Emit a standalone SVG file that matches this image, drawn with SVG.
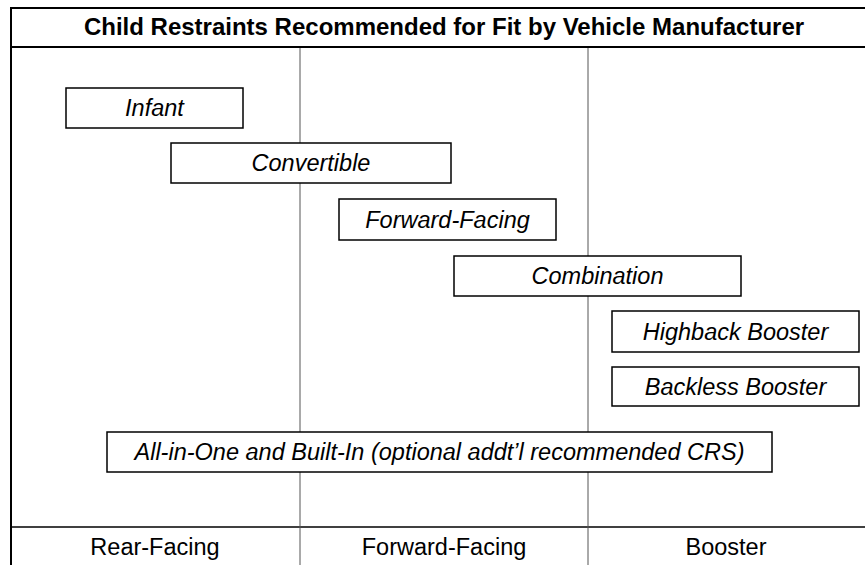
<svg xmlns="http://www.w3.org/2000/svg" width="865" height="565" viewBox="0 0 865 565">
<style>
.frame{stroke:#000;stroke-width:2;fill:none}
.div{stroke:#555;stroke-width:1;fill:none}
.box rect{fill:#fff;stroke:#000;stroke-width:1.5}
.box text{font-family:"Liberation Sans",Arial,sans-serif;font-style:italic;font-size:23.5px;text-anchor:middle;fill:#000}
.title{font-family:"Liberation Sans",Arial,sans-serif;font-weight:bold;font-size:24px;text-anchor:middle;fill:#000}
.lab{font-family:"Liberation Sans",Arial,sans-serif;font-size:23.5px;text-anchor:middle;fill:#000}
</style>
<rect width="865" height="565" fill="#fff"/>
<g id="grid">
<line class="frame" x1="11" y1="8" x2="865" y2="8"/>
<line class="frame" x1="11" y1="47" x2="865" y2="47"/>
<line class="frame" x1="11" y1="7" x2="11" y2="565"/>
<line class="frame" x1="11" y1="527" x2="865" y2="527" style="stroke-width:1.5"/>
<line class="div" x1="300" y1="48" x2="300" y2="565"/>
<line class="div" x1="588" y1="48" x2="588" y2="565"/>
<text class="title" x="444" y="35">Child Restraints Recommended for Fit by Vehicle Manufacturer</text>
<text class="lab" x="155" y="555">Rear-Facing</text>
<text class="lab" x="444" y="555">Forward-Facing</text>
<text class="lab" x="726" y="555">Booster</text>
</g>
<g id="connectors"></g>
<g id="infant" class="box"><rect x="66" y="88" width="177" height="40"/><text x="154.5" y="116">Infant</text></g>
<g id="convertible" class="box"><rect x="171" y="143" width="280" height="40"/><text x="311" y="171">Convertible</text></g>
<g id="forward-facing" class="box"><rect x="339" y="199" width="217" height="41"/><text x="447.5" y="228">Forward-Facing</text></g>
<g id="combination" class="box"><rect x="454" y="256" width="287" height="40"/><text x="597.5" y="284">Combination</text></g>
<g id="highback" class="box"><rect x="612" y="311" width="247" height="41"/><text x="735.5" y="340">Highback Booster</text></g>
<g id="backless" class="box"><rect x="612" y="367" width="247" height="39"/><text x="735.5" y="395">Backless Booster</text></g>
<g id="allinone" class="box"><rect x="107" y="432" width="665" height="40"/><text x="439.5" y="460">All-in-One and Built-In (optional addt’l recommended CRS)</text></g>
</svg>
